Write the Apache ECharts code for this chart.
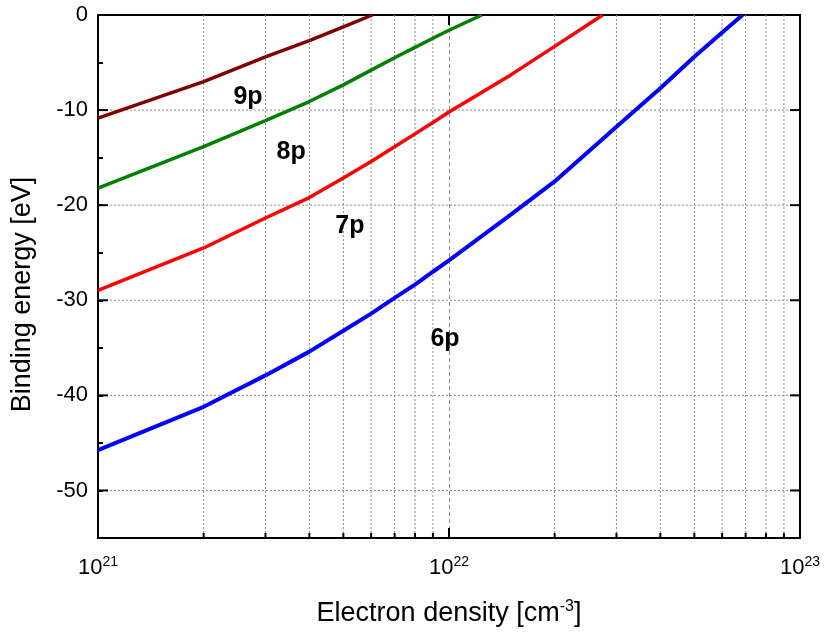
<!DOCTYPE html>
<html>
<head>
<meta charset="utf-8">
<script src="https://cdn.jsdelivr.net/npm/echarts@6/dist/echarts.min.js"></script>
<style>
html,body{margin:0;padding:0;background:#fff;}
#chart{width:824px;height:635px;}
</style>
</head>
<body>
<div id="chart"></div>
<script>
// Electron density [cm^-3] and binding energy [eV] for each level
const n9 = [1e21, 2e21, 3e21, 4e21, 5e21, 6.05e21];
const e9 = [-10.85, -7.0, -4.4, -2.7, -1.25, 0];

const n8 = [1e21, 2e21, 3e21, 4e21, 5e21, 6e21, 7e21, 8e21, 9e21, 1e22, 1.24e22];
const e8 = [-18.2, -13.85, -11.1, -9.1, -7.35, -5.8, -4.5, -3.4, -2.45, -1.6, 0];

const n7 = [1e21, 2e21, 3e21, 4e21, 5e21, 6e21, 7e21, 8e21, 9e21, 1e22, 1.5e22, 2e22, 2.74e22];
const e7 = [-28.95, -24.5, -21.35, -19.2, -17.15, -15.4, -13.85, -12.5, -11.3, -10.2, -6.3, -3.3, 0];

const n6 = [1e21, 2e21, 3e21, 4e21, 5e21, 6e21, 7e21, 8e21, 9e21, 1e22, 1.5e22, 2e22, 3e22, 4e22, 5e22, 6e22, 6.86e22];
const e6 = [-45.75, -41.2, -37.9, -35.4, -33.2, -31.4, -29.75, -28.35, -27.0, -25.8, -21.0, -17.5, -11.75, -7.7, -4.4, -1.85, 0];

const seriesNames = ['9p', '8p', '7p', '6p'];
const seriesColors = ['#800000', '#008000', '#ff0000', '#0000ff'];

// label anchor positions (data coords)
const labelX = [2.675e21, 3.55e21, 5.22e21, 9.74e21];
const labelY = [-8.6, -14.4, -22.2, -34.1];

// axis ranges and ticks
const xMin = 1e21, xMax = 1e23;
const yMin = -55, yMax = 0;
const xMinorTicks = [2e21,3e21,4e21,5e21,6e21,7e21,8e21,9e21,2e22,3e22,4e22,5e22,6e22,7e22,8e22,9e22];
const yMajorTicks = [-50, -40, -30, -20, -10];

const FONT = 'Arial, "Liberation Sans", sans-serif';
const chart = echarts.init(document.getElementById('chart'), null, {renderer: 'canvas'});

function zip(a, b) { return a.map((v, i) => [v, b[i]]); }
const curves = [zip(n9, e9), zip(n8, e8), zip(n7, e7), zip(n6, e6)];

const series = [];

// vertical minor grid lines + bottom minor ticks
series.push({
  type: 'custom', xAxisIndex: 0, yAxisIndex: 0, silent: true, z: 1,
  data: xMinorTicks.map(v => [v, yMin]),
  renderItem: function (params, api) {
    const x = api.value(0);
    const pTop = api.coord([x, yMax]);
    const pBot = api.coord([x, yMin]);
    return {type: 'group', children: [
      {type: 'line', shape: {x1: pTop[0], y1: pTop[1], x2: pBot[0], y2: pBot[1]},
        style: {stroke: '#8a8a8a', lineWidth: 1, lineDash: [2, 2]}},
      {type: 'line', shape: {x1: pBot[0], y1: pBot[1], x2: pBot[0], y2: pBot[1] - 5},
        style: {stroke: '#000', lineWidth: 2}}
    ]};
  }
});

// horizontal major grid lines + left/right major ticks
series.push({
  type: 'custom', xAxisIndex: 0, yAxisIndex: 0, silent: true, z: 1,
  data: yMajorTicks.map(v => [xMin, v]),
  renderItem: function (params, api) {
    const y = api.value(1);
    const pL = api.coord([xMin, y]);
    const pR = api.coord([xMax, y]);
    return {type: 'group', children: [
      {type: 'line', shape: {x1: pL[0], y1: pL[1], x2: pR[0], y2: pR[1]},
        style: {stroke: '#8a8a8a', lineWidth: 1, lineDash: [2, 2]}},
      {type: 'line', shape: {x1: pL[0], y1: pL[1], x2: pL[0] + 10, y2: pL[1]},
        style: {stroke: '#000', lineWidth: 2}},
      {type: 'line', shape: {x1: pR[0], y1: pR[1], x2: pR[0] - 10, y2: pR[1]},
        style: {stroke: '#000', lineWidth: 2}}
    ]};
  }
});

curves.forEach((d, i) => {
  series.push({
    name: seriesNames[i], type: 'line', data: d, showSymbol: false, symbol: 'none',
    smooth: false, z: 5, clip: true,
    lineStyle: {color: seriesColors[i], width: i === 3 ? 4 : 3.5}
  });
});

// text labels
series.push({
  type: 'scatter', symbolSize: 0, z: 6, silent: true,
  data: seriesNames.map((nm, i) => ({name: nm, value: [labelX[i], labelY[i]]})),
  itemStyle: {opacity: 1},
  label: {show: true, position: 'inside', formatter: p => p.name,
    fontFamily: FONT, fontWeight: 'bold', fontSize: 25, color: '#000', textBorderWidth: 0}
});

const option = {
  backgroundColor: '#fff',
  animation: false,
  grid: {left: 98, right: 24, top: 15, bottom: 97, containLabel: false},
  xAxis: [{
    type: 'log', logBase: 10, min: xMin, max: xMax, position: 'bottom',
    axisLine: {show: true, onZero: false, lineStyle: {color: '#000', width: 2}},
    axisTick: {show: true, inside: true, length: 10, lineStyle: {color: '#000', width: 2}},
    splitLine: {show: true, lineStyle: {color: '#8a8a8a', width: 1, type: [4, 3]}},
    minorTick: {show: false}, minorSplitLine: {show: false},
    axisLabel: {
      margin: 17, color: '#000', fontFamily: FONT, fontSize: 22,
      formatter: v => '10{sup|' + Math.round(Math.log10(v)) + '}',
      rich: {sup: {fontSize: 14, fontFamily: FONT, color: '#000', padding: [0, 0, 12, 0], verticalAlign: 'bottom'}}
    },
    name: 'Electron density [cm{sup|-3}]', nameLocation: 'middle', nameGap: 61,
    nameTextStyle: {color: '#000', fontFamily: FONT, fontSize: 27,
      rich: {sup: {fontSize: 16, fontFamily: FONT, color: '#000', padding: [0, 0, 14, 0], verticalAlign: 'bottom'}}}
  }, {
    type: 'log', logBase: 10, min: xMin, max: xMax, position: 'top',
    axisLine: {show: true, onZero: false, lineStyle: {color: '#000', width: 2}},
    axisTick: {show: true, inside: true, length: 10, lineStyle: {color: '#000', width: 2}},
    axisLabel: {show: false}, splitLine: {show: false}
  }],
  yAxis: [{
    type: 'value', min: yMin, max: yMax, interval: 5, position: 'left',
    axisLine: {show: true, onZero: false, lineStyle: {color: '#000', width: 2}},
    axisTick: {show: true, inside: true, length: 5, lineStyle: {color: '#000', width: 2}},
    splitLine: {show: false},
    axisLabel: {margin: 10, color: '#000', fontFamily: FONT, fontSize: 22,
      formatter: v => (v % 10 === 0 ? String(v) : '')},
    name: 'Binding energy [eV]', nameLocation: 'middle', nameGap: 62, nameRotate: 90,
    nameTextStyle: {color: '#000', fontFamily: FONT, fontSize: 27, padding: [0, 36, 0, 0]}
  }, {
    type: 'value', min: yMin, max: yMax, interval: 5, position: 'right',
    axisLine: {show: true, onZero: false, lineStyle: {color: '#000', width: 2}},
    axisTick: {show: false}, axisLabel: {show: false}, splitLine: {show: false}
  }],
  series: series
};
chart.setOption(option);
</script>
</body>
</html>
